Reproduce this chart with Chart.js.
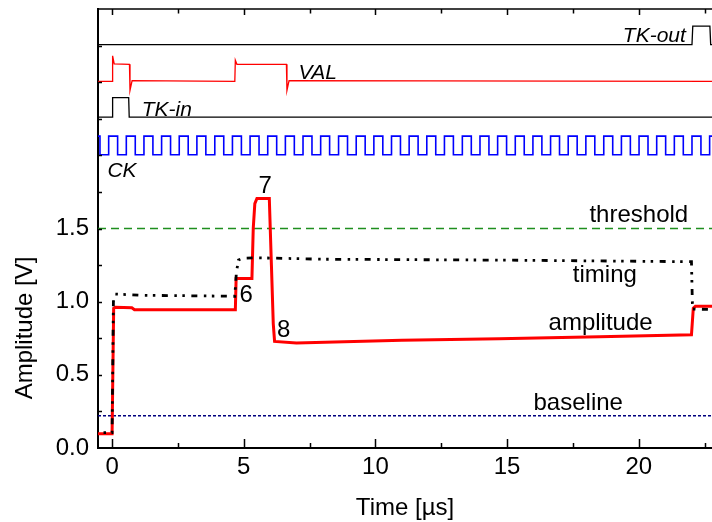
<!DOCTYPE html>
<html>
<head>
<meta charset="utf-8">
<title>Amplitude / timing traces</title>
<script src="https://cdn.jsdelivr.net/npm/chart.js@4.4.1/dist/chart.umd.min.js"></script>
<style>
    html, body { margin: 0; padding: 0; background: #ffffff; }
    #wrap { width: 712px; height: 522px; }
</style>
</head>
<body>
<div id="wrap"><canvas id="traceChart" width="712" height="522"></canvas></div>
<script>
// Trace data: [time in µs, level in V]
const amplitudeTrace = [
    [-0.8, 0.098], [0.0, 0.098], [0.06, 0.955], [0.12, 0.962], [0.75, 0.958], [0.85, 0.945],
    [4.68, 0.945], [4.71, 1.158], [5.31, 1.158], [5.36, 1.5], [5.42, 1.67], [5.5, 1.705],
    [5.97, 1.705], [6.05, 1.25], [6.12, 0.85], [6.17, 0.728], [7.0, 0.717], [11.0, 0.736],
    [14.7, 0.746], [18.5, 0.76], [22.0, 0.774], [22.07, 0.955], [22.15, 0.968], [23.0, 0.968]
];
const timingTrace = [
    [-0.8, 0.105], [0.0, 0.105], [0.05, 1.0], [0.12, 1.052], [1.0, 1.044], [4.66, 1.037],
    [4.72, 1.2], [4.8, 1.285], [4.95, 1.296], [5.5, 1.3], [8.0, 1.29], [14.7, 1.284],
    [22.0, 1.273], [22.04, 0.95], [23.0, 0.945]
];
const thresholdLevel = 1.5;
const baselineLevel = 0.22;

// Digital traces, drawn offset above the analog part
const ckRise = [
    -0.80, -0.13, 0.54, 1.21, 1.88, 2.55, 3.22, 3.90, 4.57, 5.24, 5.91, 6.58, 7.25, 7.92,
    8.60, 9.27, 9.94, 10.61, 11.28, 11.95, 12.62, 13.30, 13.97, 14.64, 15.31, 15.98,
    16.65, 17.32, 17.99, 18.67, 19.34, 20.01, 20.68, 21.35, 22.02, 22.69
];
const ckHighWidth = 0.34;
const ckLow = 2.004;
const ckHigh = 2.131;
const tkInTrace = [
    [-0.8, 2.261], [0.0, 2.261], [0.02, 2.394], [0.63, 2.394], [0.65, 2.261], [23.0, 2.261]
];
const valTrace = [
    [-0.8, 2.506], [0.0, 2.506], [0.02, 2.68], [0.08, 2.625], [0.66, 2.622], [0.68, 2.444],
    [0.76, 2.51], [4.66, 2.506], [4.68, 2.65], [4.74, 2.622], [6.62, 2.622], [6.64, 2.444],
    [6.72, 2.51], [23.0, 2.506]
];
const tkOutTrace = [
    [-0.8, 2.757], [22.02, 2.757], [22.05, 2.883], [22.7, 2.883], [22.73, 2.757], [23.0, 2.757]
];

// Axes
const xRange = [-0.535, 22.78];
const yRange = [0, 3.0];
const xTickLabels = ['0', '5', '10', '15', '20'];
const yTickLabels = ['0.0', '0.5', '1.0', '1.5'];

// Text labels anchored in data coordinates (centre, baseline)
const traceLabels = [
    { text: 'threshold', t: 20.0, v: 1.545 },
    { text: 'timing', t: 18.71, v: 1.133 },
    { text: 'amplitude', t: 18.55, v: 0.808 },
    { text: 'baseline', t: 17.70, v: 0.259 },
    { text: '6', t: 5.09, v: 0.995 },
    { text: '7', t: 5.81, v: 1.746 },
    { text: '8', t: 6.52, v: 0.758 },
    { text: 'VAL', t: 7.81, v: 2.524, italic: true },
    { text: 'TK-in', t: 2.08, v: 2.272, italic: true },
    { text: 'CK', t: 0.376, v: 1.853, italic: true },
    { text: 'TK-out', t: 20.59, v: 2.776, italic: true }
];

const FONT = "'Liberation Sans', Arial, sans-serif";

document.addEventListener('DOMContentLoaded', () => {
    initChart();
});

function toPoints(trace) {
    return trace.map(([t, v]) => ({ x: t, y: v }));
}

function clockPoints(rises, width, lo, hi) {
    const pts = [{ x: -1, y: lo }];
    rises.forEach(r => {
        pts.push({ x: r, y: lo }, { x: r, y: hi }, { x: r + width, y: hi }, { x: r + width, y: lo });
    });
    pts.push({ x: 23.5, y: lo });
    return pts;
}

function flatLine(level) {
    return [{ x: xRange[0], y: level }, { x: xRange[1], y: level }];
}

// inward ticks, top frame, text labels
const decorPlugin = {
    id: 'decor',
    afterDraw(chart) {
        const { ctx, chartArea: area, scales: { x, y } } = chart;
        ctx.save();
        ctx.strokeStyle = '#000';

        // top frame
        ctx.lineWidth = 1.5;
        ctx.beginPath();
        ctx.moveTo(area.left, area.top);
        ctx.lineTo(area.right + 2, area.top);
        ctx.stroke();

        x.ticks.forEach(tk => {
            const px = Math.round(x.getPixelForValue(tk.value)) + 0.5;
            const major = Math.abs(tk.value % 5) < 1e-6;
            ctx.beginPath();
            ctx.moveTo(px, area.bottom);
            ctx.lineTo(px, area.bottom - (major ? 9 : 5));
            ctx.moveTo(px, area.top);
            ctx.lineTo(px, area.top + (major ? 6 : 4.5));
            ctx.stroke();
        });
        y.ticks.forEach(tk => {
            if (tk.value <= 0 || tk.value >= yRange[1]) return;
            const py = Math.round(y.getPixelForValue(tk.value)) + 0.5;
            ctx.beginPath();
            ctx.moveTo(area.left, py);
            ctx.lineTo(area.left + 4, py);
            ctx.stroke();
        });

        // labels
        ctx.fillStyle = '#000';
        ctx.textAlign = 'center';
        ctx.textBaseline = 'alphabetic';
        traceLabels.forEach(lb => {
            ctx.font = lb.italic ? `italic 21px ${FONT}` : `24px ${FONT}`;
            ctx.fillText(lb.text, x.getPixelForValue(lb.t), y.getPixelForValue(lb.v));
        });

        // y axis title
        ctx.font = `24px ${FONT}`;
        ctx.translate(32, 328);
        ctx.rotate(-Math.PI / 2);
        ctx.fillText('Amplitude [V]', 0, 0);
        ctx.restore();
    }
};

function initChart() {
    const ctx = document.getElementById('traceChart').getContext('2d');
    Chart.defaults.font.family = FONT;
    Chart.defaults.color = '#000';

    const line = (data, color, width, dash) => ({
        data,
        borderColor: color,
        borderWidth: width,
        borderDash: dash || [],
        pointRadius: 0,
        fill: false,
        tension: 0
    });

    new Chart(ctx, {
        type: 'line',
        data: {
            datasets: [
                line(toPoints(timingTrace), '#000000', 2.8, [6, 6.5, 2.5, 5.5, 2.5, 6.5]),
                line(toPoints(amplitudeTrace), '#ff0000', 3),
                line(flatLine(thresholdLevel), '#1f8f1f', 1.5, [8, 5]),
                line(flatLine(baselineLevel), '#00007f', 1.5, [3, 2]),
                line(toPoints(tkOutTrace), '#000000', 1.3),
                line(toPoints(valTrace), '#ff0000', 1.3),
                line(toPoints(tkInTrace), '#000000', 1.3),
                line(clockPoints(ckRise, ckHighWidth, ckLow, ckHigh), '#0000ff', 1.6)
            ]
        },
        options: {
            responsive: false,
            animation: false,
            layout: { padding: { top: 9, right: 0, left: 0, bottom: 0 } },
            plugins: {
                legend: { display: false },
                tooltip: { enabled: false }
            },
            scales: {
                x: {
                    type: 'linear',
                    min: xRange[0],
                    max: xRange[1],
                    afterFit: s => { s.height = 74; s.paddingLeft = 0; s.paddingRight = 0; },
                    grid: { display: true, drawOnChartArea: false, drawTicks: false },
                    border: { display: true, color: '#000', width: 2 },
                    ticks: {
                        stepSize: 2.5,
                        includeBounds: false,
                        autoSkip: false,
                        maxRotation: 0,
                        padding: 5,
                        font: { size: 24 },
                        callback: v => xTickLabels.includes(String(v)) ? String(v) : ''
                    },
                    title: {
                        display: true,
                        text: 'Time [µs]',
                        font: { size: 24 },
                        padding: { top: 0, bottom: -1 }
                    }
                },
                y: {
                    type: 'linear',
                    min: yRange[0],
                    max: yRange[1],
                    afterFit: s => { s.width = 98; s.paddingTop = 0; s.paddingBottom = 0; },
                    grid: { display: true, drawOnChartArea: false, drawTicks: false },
                    border: { display: true, color: '#000', width: 2 },
                    ticks: {
                        stepSize: 0.25,
                        maxTicksLimit: 100,
                        autoSkip: false,
                        padding: 9,
                        font: { size: 24 },
                        callback: v => {
                            const s = v.toFixed(1);
                            return Math.abs(v * 2 - Math.round(v * 2)) < 1e-6 && yTickLabels.includes(s) ? s : '';
                        }
                    }
                }
            }
        },
        plugins: [decorPlugin]
    });
}
</script>
</body>
</html>
